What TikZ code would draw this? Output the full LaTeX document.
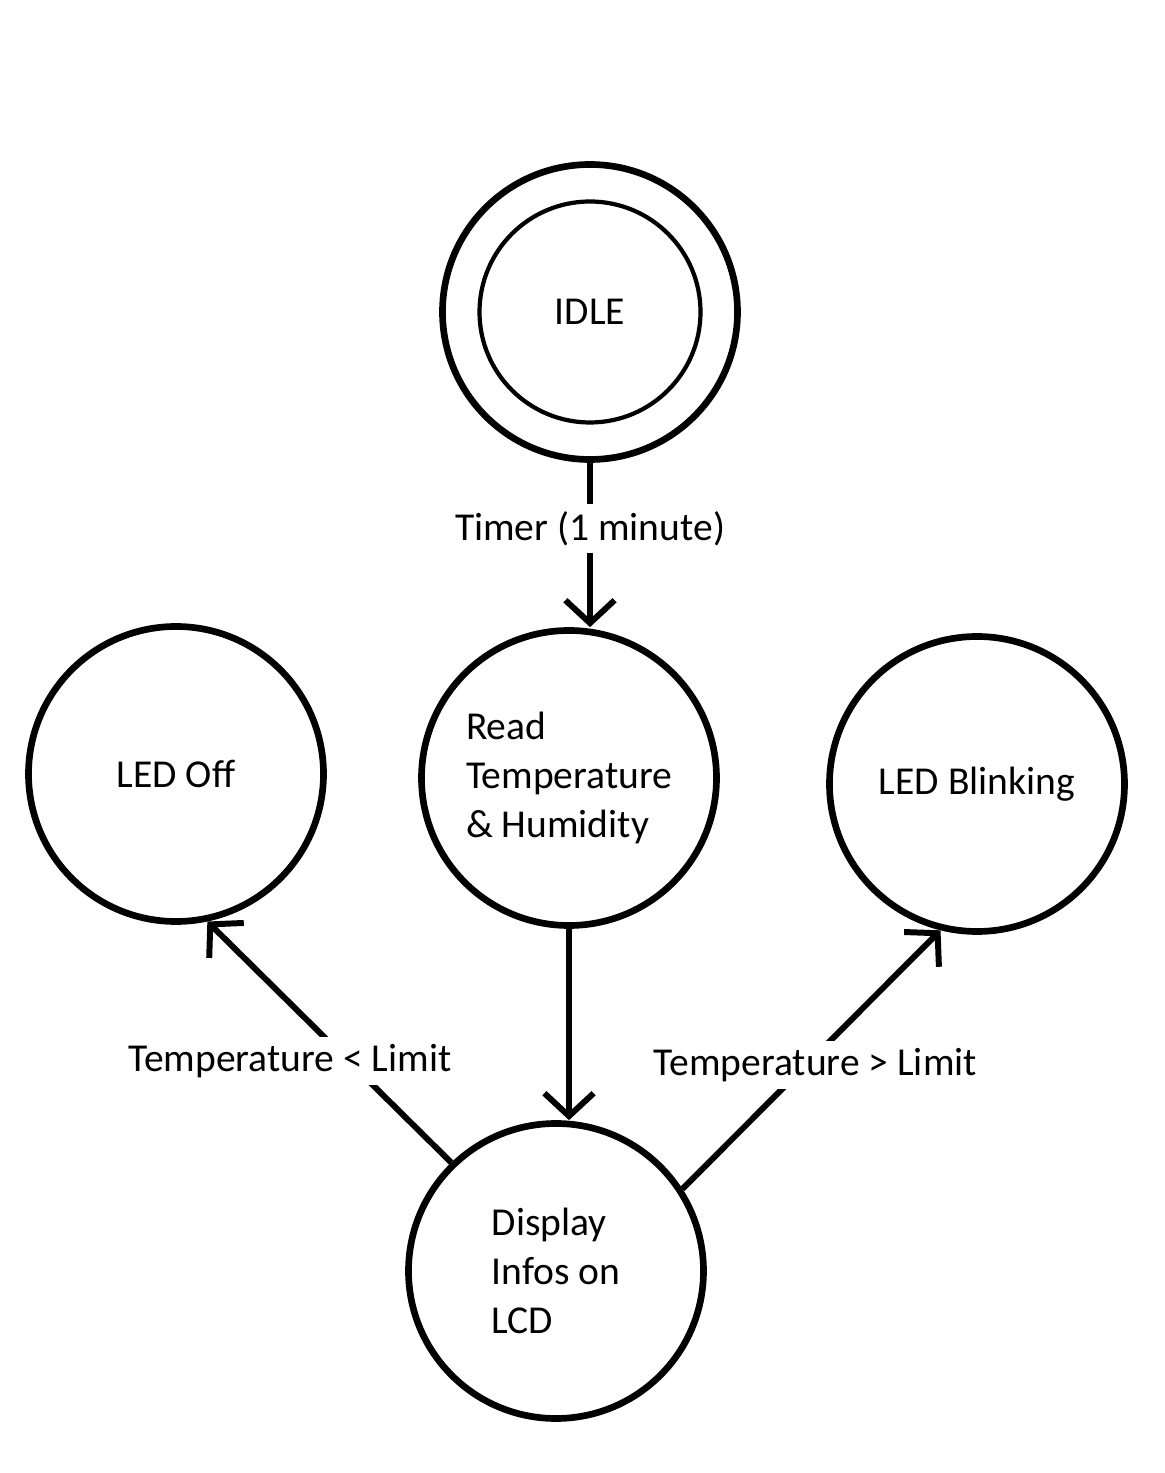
\documentclass[tikz,border=0pt]{standalone}
\usepackage{fontspec}
\setmainfont{Carlito}
\usetikzlibrary{automata,positioning,arrows.meta}

\begin{document}
\begin{tikzpicture}[node distance=9cm, on grid,
    every state/.style={draw, line width=3.8pt, minimum size=5.9cm},
    trans/.style={line width=3.4pt, -{Straight Barb[length=13pt,width=28pt]}},
    lbl/.style={fill=white, inner sep=4pt},
    font=\fontsize{22.5}{27.8}\selectfont]
    \useasboundingbox (0,0) rectangle (23.3,29.46);
    \node[state](idle) at (11.8,23.22){};
    \node[state, line width=2.4pt, minimum size=4.42cm](idleinner) at (idle){IDLE};
    \node[state, align=left, below=9.32cm of idle, xshift=-0.42cm](read){Read\\Temperature\\\& Humidity};
    \node[state, align=left, below=9.86cm of read, xshift=-0.26cm](display){Display\\Infos on\\LCD};
    \node[state, left=7.86cm of read, yshift=0.08cm](ledoff){LED Off};
    \node[state, right=8.16cm of read, yshift=-0.12cm](blink){LED Blinking};
    \draw[trans](idle.south) -- (idle.south |- read.north) node[lbl, pos=0.4]{Timer (1 minute)};
    \draw[trans](read.south) -- (read.south |- display.north);
    \draw[trans](display.134) -- (ledoff.-78) node[lbl, pos=0.42, xshift=-1.18cm]{Temperature < Limit};
    \draw[trans](display.33) -- (blink.-104) node[lbl, pos=0.48, xshift=0.18cm]{Temperature > Limit};
\end{tikzpicture}
\end{document}
